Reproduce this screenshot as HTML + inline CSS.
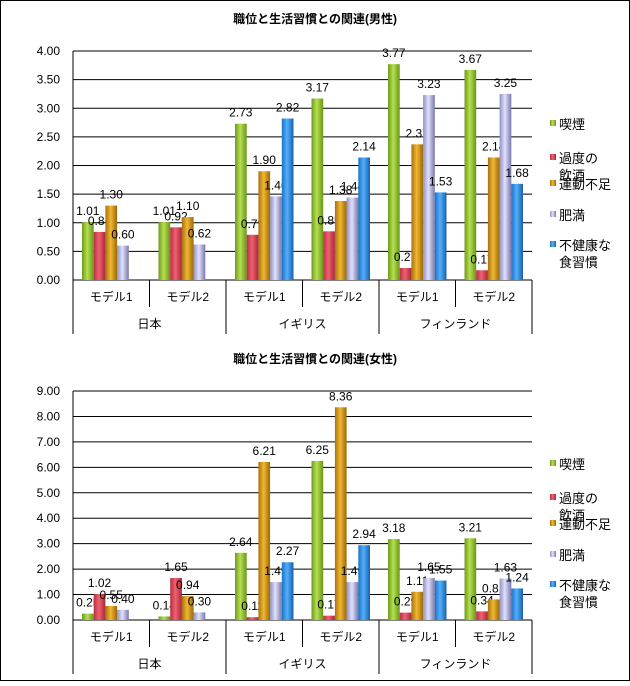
<!DOCTYPE html>
<html><head><meta charset="utf-8"><style>
body{margin:0;background:#fff;font-family:"Liberation Sans","Noto Sans CJK JP",sans-serif;}
svg text{font-family:"Liberation Sans","Noto Sans CJK JP",sans-serif;}
</style></head><body>
<svg id="svg" width="630" height="681" viewBox="0 0 630 681" xmlns="http://www.w3.org/2000/svg">
<defs>
<linearGradient id="g0" x1="0" x2="1"><stop offset="0" stop-color="#6f9a1a"/><stop offset="0.45" stop-color="#b4e050"/><stop offset="1" stop-color="#6a9418"/></linearGradient>
<linearGradient id="g1" x1="0" x2="1"><stop offset="0" stop-color="#b83040"/><stop offset="0.45" stop-color="#f06070"/><stop offset="1" stop-color="#a82838"/></linearGradient>
<linearGradient id="g2" x1="0" x2="1"><stop offset="0" stop-color="#a87010"/><stop offset="0.45" stop-color="#f0b830"/><stop offset="1" stop-color="#9a6808"/></linearGradient>
<linearGradient id="g3" x1="0" x2="1"><stop offset="0" stop-color="#9090c0"/><stop offset="0.45" stop-color="#e0e0ff"/><stop offset="1" stop-color="#7878a8"/></linearGradient>
<linearGradient id="g4" x1="0" x2="1"><stop offset="0" stop-color="#2070c0"/><stop offset="0.45" stop-color="#50b0ff"/><stop offset="1" stop-color="#1a60a8"/></linearGradient>
</defs>
<rect x="0.5" y="0.5" width="629" height="680" fill="#fff" stroke="#000"/>
</svg>
<script>
const seriesNames=["喫煙","過度の飲酒","運動不足","肥満","不健康な食習慣"];
const categories=["モデル1","モデル2","モデル1","モデル2","モデル1","モデル2"];
const countries=["日本","イギリス","フィンランド"];
const maleTicks=["0.00","0.50","1.00","1.50","2.00","2.50","3.00","3.50","4.00"];
const femaleTicks=["0.00","1.00","2.00","3.00","4.00","5.00","6.00","7.00","8.00","9.00"];
// values per category: [smoking, drinking, exercise, obesity, diet]
const maleValues=[[1.01,0.84,1.30,0.60,null],[1.01,0.92,1.10,0.62,null],[2.73,0.79,1.90,1.46,2.82],[3.17,0.85,1.38,1.44,2.14],[3.77,0.21,2.37,3.23,1.53],[3.67,0.17,2.14,3.25,1.68]];
const femaleValues=[[0.25,1.02,0.55,0.40,null],[0.14,1.65,0.94,0.30,null],[2.64,0.11,6.21,1.49,2.27],[6.25,0.17,8.36,1.49,2.94],[3.18,0.29,1.11,1.65,1.55],[3.21,0.34,0.81,1.63,1.24]];
const titles=["職位と生活習慣との関連(男性)","職位と生活習慣との関連(女性)"];

const NS="http://www.w3.org/2000/svg";
const svg=document.getElementById("svg");
function mk(tag,attrs,parent){const e=document.createElementNS(NS,tag);for(const k in attrs)e.setAttribute(k,attrs[k]);(parent||svg).appendChild(e);return e;}

function drawChart(oy,ticks,vals,title,key){
  const g=mk("g",{});
  
  
  const left=73,right=532,top=oy+51,bottom=oy+280;
  const maxV=parseFloat(ticks[ticks.length-1]);
  const y=v=>bottom-(v/maxV)*(bottom-top);
  const gw=(right-left)/categories.length;
  const x=(ci,si)=>left+ci*gw+9+si*11.7;
  const t=mk("text",{x:315,y:oy+23,"text-anchor":"middle","font-size":"12","font-weight":"bold"},g);
  t.textContent=title;
  
  
  ticks.forEach(tk=>{
    const v=parseFloat(tk),yy=y(v);
    const l=mk("line",{x1:left,x2:right,y1:yy,y2:yy,stroke:"#000","stroke-width":1},g);
    
    
    const tx=mk("text",{x:60,y:yy+4,"text-anchor":"end","font-size":"12"},g);
    tx.textContent=tk;
    
    
  });
  const ax=mk("line",{x1:left,x2:left,y1:top,y2:bottom+54,stroke:"#000"},g);
  
  
  for(let i=1;i<=categories.length;i++){
    const xx=left+i*gw;
    const sep=mk("line",{x1:xx,x2:xx,y1:bottom,y2:bottom+(i%2==0?54:27),stroke:"#000"},g);
    
    
  }
  categories.forEach((c,i)=>{
    const tx=mk("text",{x:left+(i+0.5)*gw,y:bottom+21,"text-anchor":"middle","font-size":"12"},g);
    tx.textContent=c;
    
    
  });
  countries.forEach((c,i)=>{
    const tx=mk("text",{x:left+(2*i+1)*gw,y:bottom+48,"text-anchor":"middle","font-size":"12"},g);
    tx.textContent=c;
    
    
  });
  vals.forEach((row,ci)=>{
    row.forEach((v,si)=>{
      if(v===null)return;
      const b=mk("rect",{x:x(ci,si),y:y(v),width:11.7,height:bottom-y(v),fill:"url(#g"+si+")"},g);
      
      
      const lb=mk("text",{x:x(ci,si)+5.8,y:y(v)-7,"text-anchor":"middle","font-size":"12"},g);
      lb.textContent=v.toFixed(2);
      
      
    });
  });
  const ly=[oy+124,oy+158,oy+184,oy+215,oy+245];
  seriesNames.forEach((n,i)=>{
    const lg=mk("g",{},g);
    
    
    mk("rect",{x:550,y:ly[i]-4,width:6,height:6,fill:"url(#g"+i+")"},lg);
    const lines=(i==1)?["過度の","飲酒"]:(i==4)?["不健康な","食習慣"]:[n];
    lines.forEach((s,k)=>{
      const tx=mk("text",{x:559,y:ly[i]+5+k*17,"font-size":"13"},lg);
      tx.textContent=s;
    });
  });
}
drawChart(0,maleTicks,maleValues,titles[0],"male");
drawChart(340,femaleTicks,femaleValues,titles[1],"female");
</script>
</body></html>
